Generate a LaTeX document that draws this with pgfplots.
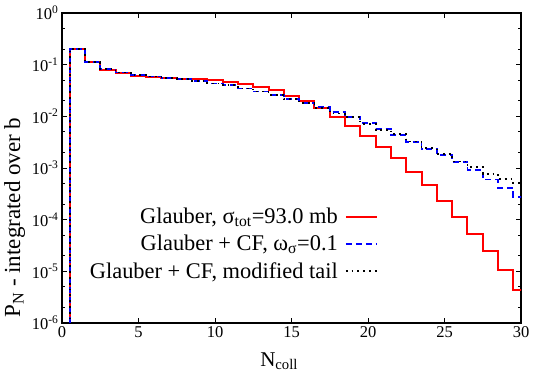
\documentclass[border=0pt]{standalone}
\usepackage{fontspec}
\setmainfont{Liberation Serif}
\usepackage{pgfplots}
\usepackage{pgfplotstable}
\pgfplotsset{compat=1.18}

% N_coll histograms, bins of width 1 starting at 0.5
\pgfplotstableread{
x y
-0.5 1e-9
0.5 0.200
1.5 0.112
2.5 0.0796
3.5 0.0680
4.5 0.0608
5.5 0.0574
6.5 0.0549
7.5 0.0525
8.5 0.0520
9.5 0.0502
10.5 0.0466
11.5 0.0426
12.5 0.0377
13.5 0.0321
14.5 0.0252
15.5 0.0199
16.5 0.0144
17.5 0.00989
18.5 0.00661
19.5 0.00418
20.5 0.00259
21.5 0.00153
22.5 0.000848
23.5 0.000469
24.5 0.000229
25.5 0.000114
26.5 5.25e-5
27.5 2.46e-5
28.5 1.05e-5
29.5 4.45e-6
30.5 4.45e-6
}\glauber

\pgfplotstableread{
x y
-0.5 1e-9
0.5 0.199
1.5 0.112
2.5 0.0832
3.5 0.0705
4.5 0.0636
5.5 0.0590
6.5 0.0549
7.5 0.0525
8.5 0.0480
9.5 0.0431
10.5 0.0402
11.5 0.0345
12.5 0.0302
13.5 0.0261
14.5 0.0218
15.5 0.0180
16.5 0.0150
17.5 0.0120
18.5 0.00962
19.5 0.00756
20.5 0.00563
21.5 0.00437
22.5 0.00315
23.5 0.00234
24.5 0.00179
25.5 0.00129
26.5 0.000915
27.5 0.000598
28.5 0.000415
29.5 0.000278
30.5 0.000278
}\cf

\pgfplotstableread{
x y
-0.5 1e-9
0.5 0.199
1.5 0.112
2.5 0.0832
3.5 0.0705
4.5 0.0636
5.5 0.0590
6.5 0.0549
7.5 0.0525
8.5 0.0480
9.5 0.0431
10.5 0.0402
11.5 0.0345
12.5 0.0302
13.5 0.0261
14.5 0.0218
15.5 0.0178
16.5 0.0146
17.5 0.0113
18.5 0.00962
19.5 0.00720
20.5 0.00550
21.5 0.00455
22.5 0.00325
23.5 0.00240
24.5 0.00187
25.5 0.00134
26.5 0.00103
27.5 0.000765
28.5 0.000604
29.5 0.000512
30.5 0.000512
}\tail

\begin{document}
\begin{tikzpicture}
\begin{axis}[
  scale only axis,
  width=459pt, height=310pt,
  xmin=0, xmax=30,
  ymode=log, ymin=1e-6, ymax=1,
  xtick={0,5,...,30},
  ytick={1e-6,1e-5,1e-4,1e-3,1e-2,1e-1,1},
  yticklabels={10\textsuperscript{-6},10\textsuperscript{-5},10\textsuperscript{-4},10\textsuperscript{-3},10\textsuperscript{-2},10\textsuperscript{-1},10\textsuperscript{0}},
  minor ytick={2e-6,5e-6,2e-5,5e-5,2e-4,5e-4,2e-3,5e-3,2e-2,5e-2,2e-1,5e-1},
  tick pos=both,
  tick align=inside,
  major tick length=5pt,
  minor tick length=3pt,
  every tick/.style={black, line width=0.9pt},
  axis line style={line width=1.3pt},
  /pgf/number format/assume math mode=true,
  ticklabel style={font=\fontsize{16.5}{18}\selectfont},
  xlabel={N\textsubscript{coll}},
  ylabel={P\textsubscript{N} - integrated over b},
  xlabel style={font=\fontsize{21}{24}\selectfont, at={(ticklabel cs:0.473)}, yshift=-8pt},
  ylabel style={font=\fontsize{23}{26}\selectfont, at={(ticklabel cs:0.34)}},
  legend style={draw=none, fill=none, at={(0.695,0.255)}, anchor=east,
    font=\fontsize{22.4}{25}\selectfont, row sep=6pt,
    /tikz/every odd column/.append style={column sep=5pt}},
  legend cell align=right,
  legend plot pos=right,
  legend image code/.code={\draw[#1, sharp plot] (0pt,0pt) -- (31pt,0pt);},
]
\addplot[red, line width=2pt, line join=miter, const plot mark left] table {\glauber};
\addlegendentry{Glauber, σ\textsubscript{tot}=93.0 mb}
\addplot[blue, line width=1.8pt, dash pattern=on 6pt off 4pt, const plot mark left] table {\cf};
\addlegendentry{Glauber + CF, ω\textsubscript{σ}=0.1}
\addplot[black, line width=1.8pt, dash pattern=on 1.8pt off 4pt, const plot mark left] table {\tail};
\addlegendentry{Glauber + CF, modified tail}
\end{axis}
\path ([xshift=-62pt,yshift=-53pt]current axis.south west) rectangle ([xshift=24pt,yshift=13pt]current axis.north east);
\end{tikzpicture}
\end{document}
